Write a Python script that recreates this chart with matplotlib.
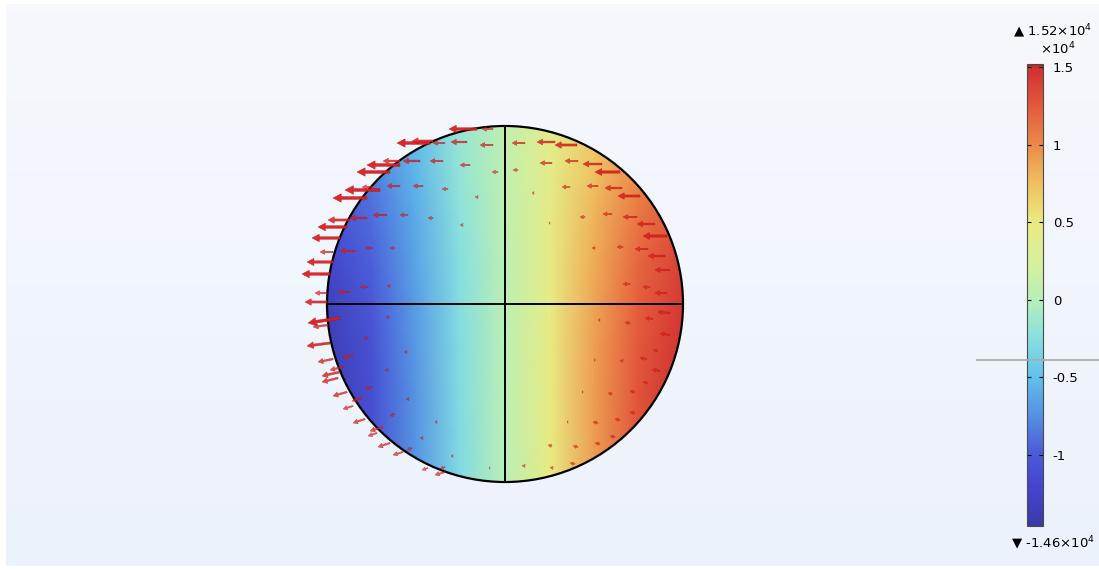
import numpy as np
import matplotlib.pyplot as plt
from matplotlib.colors import LinearSegmentedColormap, Normalize
from matplotlib.patches import Circle
from matplotlib.lines import Line2D

plt.rcParams['mathtext.fontset'] = 'dejavusans'
plt.rcParams['mathtext.default'] = 'regular'

W, H = 1099, 570

# sphere seen along the z axis, radius in mm
radius = 17.8

# electric potential on the visible surface, sampled on a grid (x1e4 V)
grid_x = [-17.8, -13.3, -8.9, -4.5, 0.0, 4.5, 8.9, 13.3, 17.8]
grid_y = [17.6, 13.2, 8.8, 4.4, 0.0, -4.4, -8.8, -13.2, -17.6]
potential = [
    [-0.95, -0.78, -0.50, -0.16, 0.08, 0.40, 0.68, 0.92, 1.12],
    [-1.02, -0.84, -0.55, -0.19, 0.07, 0.42, 0.74, 1.00, 1.20],
    [-1.12, -0.91, -0.60, -0.22, 0.06, 0.44, 0.80, 1.10, 1.30],
    [-1.22, -0.97, -0.64, -0.25, 0.05, 0.45, 0.84, 1.18, 1.40],
    [-1.30, -1.02, -0.67, -0.27, 0.05, 0.46, 0.87, 1.22, 1.45],
    [-1.36, -1.08, -0.70, -0.28, 0.05, 0.47, 0.90, 1.26, 1.48],
    [-1.40, -1.10, -0.72, -0.28, 0.05, 0.47, 0.91, 1.28, 1.50],
    [-1.40, -1.10, -0.72, -0.29, 0.04, 0.47, 0.91, 1.28, 1.50],
    [-1.40, -1.10, -0.72, -0.29, 0.04, 0.47, 0.91, 1.28, 1.50],
]
v_min, v_max = -1.46, 1.52
cbar_ticks = [-1, -0.5, 0, 0.5, 1, 1.5]

# electric field arrows on the surface: tail position and vector (mm)
arrow_x = [-2.8, -1.2, -7.5, -7.2, -6.0, -3.8, -1.2, -10.5, -10.5, -8.5,
           -6.2, -3.5, -0.7, -11.5, -12.5, -13.2, -10.5, -8.2, -5.7, -2.7,
           -13.8, -15.5, -13.8, -11.8, -9.7, -7.2, -4.2, -15.8, -16.5, -17.2,
           -15.0, -13.2, -11.0, -17.2, -17.5, -15.5, -13.7, -11.5, -17.8, -17.8,
           -16.5, -17.7, -11.6, -17.5, -13.7, -9.8, -17.2, -15.2, -11.7, -16.5,
           -16.7, -16.2, -13.3, -15.8, -14.3, -15.2, -9.6, -14.0, -11.0, -12.2,
           -12.8, -6.8, -11.5, -8.2, -10.2, -9.3, -5.2, -7.7, -6.0, -6.0,
           -1.5,
           2.0, 5.0, 7.2, 1.3, 4.7, 7.3, 9.7, 11.5, 2.9, 6.5,
           9.3, 11.7, 13.5, 8.0, 10.7, 13.2, 15.0, 16.2, 4.5, 9.0,
           11.8, 14.3, 16.0, 16.5, 12.5, 14.5, 16.2,
           16.5, 14.8, 12.5, 9.5, 16.5, 15.3, 14.2, 11.8, 9.0, 15.5,
           14.3, 13.0, 10.7, 7.8, 13.0, 11.5, 9.3, 6.3, 11.0, 9.5,
           7.3, 4.7, 7.0, 4.8, 2.0]
arrow_y = [17.5, 17.5, 16.1, 16.3, 16.1, 16.2, 15.9, 13.9, 14.3, 14.3,
           14.3, 13.9, 13.2, 13.2, 11.4, 11.7, 11.8, 11.8, 11.5, 10.7,
           10.6, 8.4, 8.6, 8.9, 8.9, 8.6, 7.9, 7.7, 6.6, 5.2,
           5.3, 5.6, 5.6, 4.2, 3.0, 1.2, 1.7, 1.8, 0.2, 1.1,
           -1.4, -2.1, -1.3, -3.9, -3.4, -4.8, -5.5, -5.1, -6.6, -6.8,
           -7.4, -6.3, -8.3, -8.8, -9.4, -10.2, -9.5, -11.5, -11.0, -12.3,
           -12.9, -11.8, -13.9, -13.4, -14.8, -14.4, -15.2, -16.4, -16.8, -16.3,
           -16.4,
           16.1, 16.2, 15.9, 13.4, 14.1, 14.3, 14.0, 13.2, 11.1, 11.7,
           11.8, 11.6, 10.8, 8.7, 9.0, 8.7, 8.0, 6.8, 8.1, 5.6,
           5.7, 5.5, 4.8, 3.4, 2.0, 1.7, 1.1,
           -0.9, -1.5, -1.9, -1.6, -3.1, -4.7, -5.5, -5.7, -5.6, -6.7,
           -7.9, -8.8, -9.0, -8.8, -10.9, -11.6, -11.9, -11.8, -13.3, -14.0,
           -14.3, -14.2, -16.0, -16.4, -16.2]
arrow_dx = [-2.8, -1.1, -3.3, -2.1, -1.2, -1.6, -1.3, -3.3, -1.7, -1.7,
            -1.3, -1.0, -0.6, -3.3, -3.5, -1.1, -1.3, -1.0, -0.6, -0.3,
            -3.4, -2.2, -1.7, -1.4, -0.8, -0.5, -0.3, -2.9, -2.8, -1.3,
            -1.5, -0.8, -0.5, -2.6, -2.8, -1.2, -0.8, -0.3, -2.2, -1.2,
            -3.2, -1.5, -0.3, -2.3, -0.5, -0.3, -1.5, -1.0, -0.3, -1.8,
            -1.6, -1.3, -0.7, -1.4, -1.0, -1.0, -0.3, -1.2, -0.5, -1.3,
            -0.9, -0.2, -1.2, -0.3, -1.0, -0.5, -0.2, -0.6, -1.0, -0.5,
            -0.1,
            -1.3, -1.8, -2.2, -0.5, -1.2, -1.3, -1.9, -2.5, -0.2, -0.8,
            -1.1, -1.7, -2.2, -0.5, -0.9, -1.4, -1.8, -2.4, -0.1, -0.3,
            -0.6, -1.3, -1.7, -1.5, -0.7, -0.7, -1.2,
            -1.2, -0.8, -0.5, -0.2, -1.0, -0.5, -0.7, -0.3, -0.1, -0.8,
            -0.5, -0.5, -0.4, -0.1, -0.5, -0.5, -0.5, -0.1, -0.5, -0.5,
            -0.5, -0.4, -0.5, -0.3, -0.3]
arrow_dy = [0.0] * 40 + [
            -0.5, -0.2, 0.0, -0.3, 0.0, 0.0, -0.3, -0.3, 0.0, -0.4,
            -0.4, -0.3, -0.2, -0.4, -0.3, -0.3, 0.0, -0.4, -0.2, -0.4,
            -0.3, 0.0, -0.4, 0.0, -0.3, -0.2, 0.0, -0.2, -0.3, -0.2,
            0.0] + [0.0] * 27 + [
            0.1, 0.1, 0.05, 0.0, 0.15, 0.1, 0.1, 0.05, 0.0, 0.15,
            0.1, 0.1, 0.1, 0.0, 0.1, 0.1, 0.1, 0.0, 0.1, 0.1,
            0.1, 0.1, 0.1, 0.05, 0.05]

# colour scale used for the surface plot
cmap_values = [-1.46, -1.2, -1.0, -0.75, -0.5, -0.25, 0.0, 0.25, 0.5, 0.75, 1.0, 1.25, 1.5, 1.52]
cmap_colors = ['#3b3aa6', '#4446cf', '#4b5ad8', '#5590e2', '#62c0ec', '#88e0e0', '#b6f0b8',
               '#d8f09a', '#eaea80', '#f0c060', '#ec8a4a', '#e45a3c', '#d03030', '#b82828']
cmap = LinearSegmentedColormap.from_list(
    'rainbow_light',
    [((v - v_min) / (v_max - v_min), c) for v, c in zip(cmap_values, cmap_colors)])
norm = Normalize(v_min, v_max)

fig = plt.figure(figsize=(W / 100, H / 100), dpi=100)
fig.patch.set_facecolor('white')

# pale gradient backdrop of the graphics window
bg = fig.add_axes([6 / W, 4 / H, 1 - 6 / W, 1 - 8 / H])
bg.imshow(np.linspace(0, 1, 64).reshape(-1, 1),
          cmap=LinearSegmentedColormap.from_list('bg', ['#f6f8fd', '#ecf2fb']),
          aspect='auto', extent=[0, 1, 0, 1])
bg.set_axis_off()

# main view in mm, centred on the sphere
ax = fig.add_axes([0, 0, 1, 1])
ax.set_facecolor('none')
ax.set_xlim(-505 / 10, (W - 505) / 10)
ax.set_ylim((304 - H) / 10, 304 / 10)
ax.set_aspect('equal')
ax.set_axis_off()

gx, gy = np.meshgrid(grid_x, grid_y)
mesh = ax.pcolormesh(gx, gy, np.array(potential), cmap=cmap, norm=norm,
                     shading='gouraud', zorder=1)
disc = Circle((0, 0), radius, transform=ax.transData)
mesh.set_clip_path(disc)

ax.add_patch(Circle((0, 0), radius, fill=False, ec='black', lw=1.6, zorder=3))
ax.plot([-radius, radius], [0, 0], color='black', lw=1.4, zorder=3)
ax.plot([0, 0], [-radius, radius], color='black', lw=1.4, zorder=3)

for x, y, dx, dy in zip(arrow_x, arrow_y, arrow_dx, arrow_dy):
    length = np.hypot(dx, dy)
    hl = min(0.17 * length + 0.25, length)
    ax.arrow(x, y, dx, dy, width=0.06 * length + 0.08,
             head_width=0.17 * length + 0.28, head_length=hl,
             length_includes_head=True, fc='#dc1c1c', ec='#b01515', lw=0.3,
             alpha=min(0.95, 0.55 + 0.14 * length), zorder=4)

# colour legend
cax = fig.add_axes([1027 / W, (H - 526) / H, 16 / W, 462 / H])
cb = fig.colorbar(mesh, cax=cax, ticks=cbar_ticks)
cb.ax.set_yticklabels(['-1', '-0.5', '0', '0.5', '1', '1.5'])
cb.ax.tick_params(direction='in', length=3, width=0.8, labelsize=9.5,
                  left=True, right=True, colors='black', pad=7)
cb.outline.set_edgecolor('#4a4a4a')
cb.outline.set_linewidth(0.8)

fig.text(1053 / W, 1 - 31 / H, '▲ 1.52×10$^4$', ha='center', va='center', fontsize=9.5)
fig.text(1058 / W, 1 - 49 / H, '×10$^4$', ha='center', va='center', fontsize=9.5)
fig.text(1053 / W, 1 - 543 / H, '▼ -1.46×10$^4$', ha='center', va='center', fontsize=9.5)

# divider of the side panel
fig.add_artist(Line2D([977 / W, 1], [1 - 360 / H, 1 - 360 / H], color='#a9acb0', lw=1.3))

fig.savefig('out.png', dpi=100)
